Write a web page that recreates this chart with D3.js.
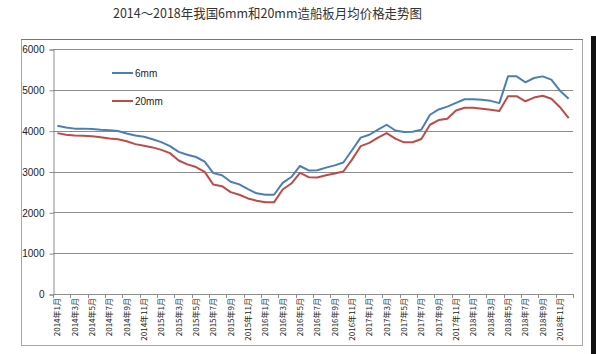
<!DOCTYPE html>
<html>
<head>
<meta charset="utf-8">
<script src="https://cdn.jsdelivr.net/npm/d3@7"></script>
<style>
  body { margin: 0; background: #fff; }
  text { font-family: "Liberation Sans", Arial, sans-serif; }
</style>
</head>
<body>
<svg width="596" height="354"></svg>
<script>
/* chart data */
var years = [2014, 2015, 2016, 2017, 2018];
var price6mm = [
  4120, 4080, 4050, 4050, 4040, 4020, 4010, 3990, 3930, 3880, 3850, 3790,
  3720, 3620, 3480, 3410, 3355, 3240, 2960, 2910, 2750, 2685, 2570, 2465,
  2430, 2430, 2720, 2865, 3135, 3025, 3030, 3095, 3150, 3220, 3520, 3830,
  3900, 4025, 4145, 4005, 3965, 3975, 4025, 4390, 4520, 4590, 4680, 4770,
  4770, 4755, 4730, 4675, 5330, 5330, 5185, 5290, 5330, 5250, 4980, 4780
];
var price20mm = [
  3940, 3900, 3880, 3875, 3865, 3840, 3810, 3790, 3740, 3670, 3630, 3590,
  3530, 3450, 3270, 3175, 3110, 2990, 2680, 2640, 2495, 2430, 2340, 2285,
  2245, 2245, 2560, 2705, 2965, 2860, 2855, 2910, 2950, 3000, 3290, 3620,
  3700, 3830, 3940, 3805, 3715, 3715, 3795, 4145, 4260, 4290, 4495, 4560,
  4560, 4535, 4510, 4480, 4845, 4845, 4720, 4810, 4855, 4780, 4575, 4310
];
var yTicks = [0, 1000, 2000, 3000, 4000, 5000, 6000];
var seriesNames = ["6mm", "20mm"];
var seriesColors = ["#4a7ebb", "#be4b48"];

/* month categories: 2014年1月 ... 2018年12月 */
var months = [];
years.forEach(function(y) {
  for (var m = 1; m <= 12; m++) months.push(y + "年" + m + "月");
});

var svg = d3.select("svg"),
    plot = {left: 53, right: 573, top: 49, bottom: 294};

/* outer chart box */
svg.append("rect")
    .attr("x", 21.5).attr("y", 39.5)
    .attr("width", 561).attr("height", 306)
    .attr("fill", "#fff")
    .attr("stroke", "#a6a6a6");
svg.append("line")
    .attr("x1", 21).attr("x2", 583)
    .attr("y1", 39.5).attr("y2", 39.5)
    .attr("stroke", "#777");

/* dark strip at the right edge of the picture */
svg.append("rect")
    .attr("x", 591).attr("y", 36)
    .attr("width", 5).attr("height", 318)
    .attr("fill", "#111");

svg.append("text")
    .attr("x", 267.5).attr("y", 18)
    .attr("text-anchor", "middle")
    .attr("font-size", 13)
    .attr("textLength", 309)
    .attr("lengthAdjust", "spacingAndGlyphs")
    .attr("fill", "#333")
    .style("font-family", "'Noto Sans CJK SC', sans-serif")
    .text("2014～2018年我国6mm和20mm造船板月均价格走势图");

var x = d3.scaleBand().domain(months).range([plot.left, plot.right]).padding(0),
    y = d3.scaleLinear().domain([0, 6000]).range([plot.bottom, plot.top]);

/* horizontal gridlines */
svg.append("g")
  .selectAll("line")
  .data(yTicks.filter(function(d) { return d > 0; }))
  .enter().append("line")
    .attr("x1", plot.left).attr("x2", plot.right)
    .attr("y1", function(d) { return Math.round(y(d)) + 0.5; })
    .attr("y2", function(d) { return Math.round(y(d)) + 0.5; })
    .attr("stroke", "#8c8c8c");

/* y axis */
var yAxis = svg.append("g")
    .attr("transform", "translate(" + (plot.left + 0.5) + ",0.5)")
    .call(d3.axisLeft(y).tickValues(yTicks).tickSize(4).tickPadding(5).tickFormat(d3.format("d")));
yAxis.select(".domain").attr("stroke", "#8c8c8c");
yAxis.selectAll(".tick line").attr("stroke", "#8c8c8c");
yAxis.selectAll(".tick text")
    .attr("font-size", 10)
    .attr("fill", "#222")
    .style("font-family", "'Liberation Sans', Arial, sans-serif");

/* x axis: tick marks on category borders, every second month */
var xg = svg.append("g");
xg.append("line")
    .attr("x1", plot.left).attr("x2", plot.right)
    .attr("y1", plot.bottom + 0.5).attr("y2", plot.bottom + 0.5)
    .attr("stroke", "#8c8c8c");
xg.selectAll(".xtick")
  .data(months.filter(function(d, i) { return i % 2 === 0; }).concat(["end"]))
  .enter().append("line")
    .attr("class", "xtick")
    .attr("x1", function(d) { return Math.round(d === "end" ? plot.right : x(d)) + 0.5; })
    .attr("x2", function(d) { return Math.round(d === "end" ? plot.right : x(d)) + 0.5; })
    .attr("y1", plot.bottom).attr("y2", plot.bottom + 4)
    .attr("stroke", "#8c8c8c");
xg.selectAll(".xlabel")
  .data(months.filter(function(d, i) { return i % 2 === 0; }))
  .enter().append("text")
    .attr("class", "xlabel")
    .attr("transform", function(d) {
      return "translate(" + (x(d) + x.bandwidth() / 2 + 3) + "," + (plot.bottom + 4) + ") rotate(-90)";
    })
    .attr("text-anchor", "end")
    .attr("font-size", 8)
    .attr("fill", "#222")
    .style("font-family", "'Noto Sans CJK SC', sans-serif")
    .text(function(d) { return d; });

/* the two price lines */
var line = d3.line()
    .x(function(d, i) { return x(months[i]) + x.bandwidth() / 2; })
    .y(function(d) { return y(d); });

[price6mm, price20mm].forEach(function(s, k) {
  svg.append("path")
      .datum(s)
      .attr("fill", "none")
      .attr("stroke", seriesColors[k])
      .attr("stroke-width", 2)
      .attr("stroke-linejoin", "round")
      .attr("d", line);
});

/* legend */
var legend = svg.append("g")
  .selectAll("g")
  .data(seriesNames)
  .enter().append("g")
    .attr("transform", function(d, i) { return "translate(112," + (73 + i * 28) + ")"; });
legend.append("line")
    .attr("x1", 0).attr("x2", 21)
    .attr("stroke", function(d, i) { return seriesColors[i]; })
    .attr("stroke-width", 2);
legend.append("text")
    .attr("x", 23).attr("y", 3.5)
    .attr("font-size", 10)
    .attr("fill", "#222")
    .text(function(d) { return d; });
</script>
</body>
</html>
